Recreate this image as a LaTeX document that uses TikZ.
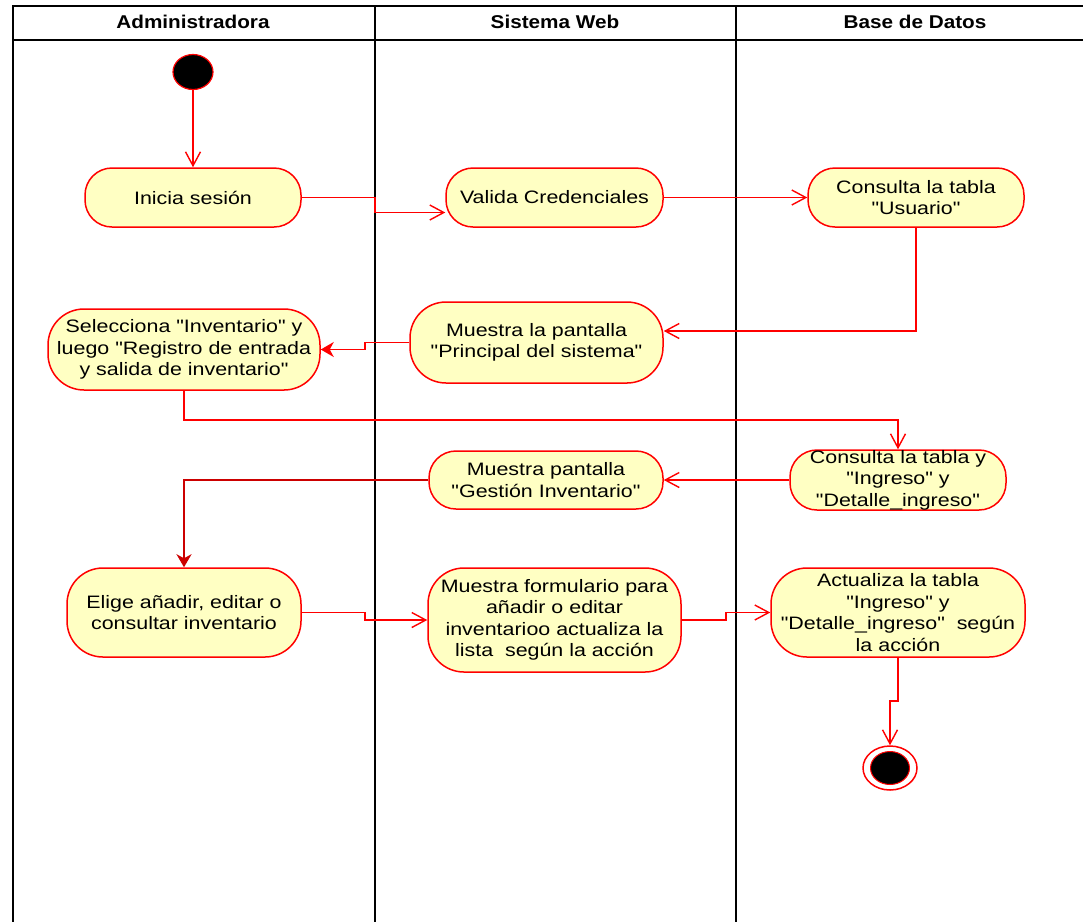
\documentclass[tikz,border=0pt]{standalone}
\usepackage{fontspec}
\usetikzlibrary{arrows.meta,shapes.geometric}
\newfontfamily\lsans{Liberation Sans}[FakeStretch=1.19]
\newfontfamily\hsans{Liberation Sans}[FakeStretch=1.12]
\definecolor{actfill}{HTML}{FFFFC3}
\definecolor{actred}{HTML}{FF0000}
\definecolor{darkred}{HTML}{CC0000}
\tikzset{
  act/.style={draw=actred, fill=actfill, line width=1.5pt, rounded corners=27pt,
    align=center, inner sep=0pt, font=\lsans\fontsize{18}{21.5}\selectfont},
  tallact/.style={act, rounded corners=36pt},
  lanehead/.style={font=\hsans\bfseries\fontsize{18.5}{20}\selectfont},
  oarr/.style={draw=actred, line width=1.4pt, -{Straight Barb[length=14pt,width=15pt,line width=1.4pt]}},
  farr/.style={draw=actred, line width=1.6pt, -{Stealth[length=13pt,width=15pt,inset=4pt]}},
  lane/.style={draw=black, line width=1.6pt},
}
\begin{document}
\begin{tikzpicture}[x=1pt,y=-1pt]
\useasboundingbox (0,0) rectangle (1083,922);
% swimlanes
\draw[lane] (1083,6) -- (13,6) -- (13,922);
\draw[lane] (13,40) -- (1083,40);
\draw[lane] (375,6) -- (375,922);
\draw[lane] (736,6) -- (736,922);
\node[lanehead] (h1) at (193,22) {Administradora};
\node[lanehead] (h2) at (555,22) {Sistema Web};
\node[lanehead] (h3) at (915,22) {Base de Datos};
% start / end
\node[ellipse, draw=actred, fill=black, line width=1.2pt, minimum width=40pt, minimum height=35pt, inner sep=0pt] (start) at (193,72) {};
\node[ellipse, draw=actred, line width=1.5pt, minimum width=54pt, minimum height=44pt, inner sep=0pt] (end) at (890,768) {};
\node[ellipse, draw=actred, fill=black, line width=1pt, minimum width=39pt, minimum height=33pt, inner sep=0pt] (endin) at (890,768) {};
% activities
\node[act, minimum width=216pt, minimum height=59pt] (ini) at (193,197.5) {Inicia sesión};
\node[act, minimum width=217pt, minimum height=59pt] (val) at (554.5,197.5) {Valida Credenciales};
\node[act, minimum width=216pt, minimum height=59pt] (cu) at (916,197.5) {Consulta la tabla\\"Usuario"};
\node[tallact, minimum width=253pt, minimum height=81pt] (mp) at (536.5,342.5) {Muestra la pantalla\\"Principal del sistema"};
\node[tallact, minimum width=272pt, minimum height=81pt] (sel) at (184,349.5) {Selecciona "Inventario" y\\luego "Registro de entrada\\y salida de inventario"};
\node[act, minimum width=216pt, minimum height=60pt] (ci) at (898,480) {Consulta la tabla y\\"Ingreso" y\\"Detalle\_ingreso"};
\node[act, minimum width=234pt, minimum height=58pt] (mg) at (546,480) {Muestra pantalla\\"Gestión Inventario"};
\node[tallact, minimum width=234pt, minimum height=89pt] (el) at (184,612.5) {Elige añadir, editar o\\consultar inventario};
\node[tallact, minimum width=253pt, minimum height=104pt] (mf) at (554.5,620) {Muestra formulario para\\añadir o editar\\inventarioo actualiza la\\lista\ \ según la acción};
\node[tallact, minimum width=254pt, minimum height=89pt] (ac) at (898,612.5) {Actualiza la tabla\\"Ingreso" y\\"Detalle\_ingreso"\ \ según\\la acción};
% junction points
\coordinate (j0) at (375,205);
\coordinate (j1) at (365,346);
\coordinate (j2) at (898,420);
\coordinate (j3) at (365,616);
\coordinate (j4) at (726,616);
\coordinate (j5) at (893,701);
% connectors
\draw[oarr] (start) -- (ini);
\draw[oarr] (ini.east) -| (j0) |- ([yshift=-15pt]val.west);
\draw[oarr] (val) -- (cu);
\draw[oarr] (cu.south) |- ([yshift=11.5pt]mp.east);
\draw[farr] (mp.west) -| (j1) |- (sel.east);
\draw[oarr] (sel.south) |- (j2) -- (ci.north);
\draw[oarr] (ci) -- (mg);
\draw[farr, draw=darkred, line width=1.8pt] (mg.west) -| (el.north);
\draw[oarr] (el.east) -| (j3) |- (mf.west);
\draw[oarr] (mf.east) -| (j4) |- (ac.west);
\draw[oarr] (ac.south) |- (j5) -| (end.north);
\end{tikzpicture}
\end{document}
